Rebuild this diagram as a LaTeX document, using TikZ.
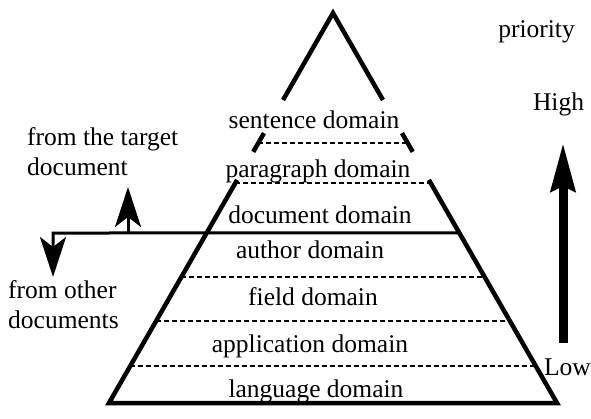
\documentclass[tikz,border=0pt]{standalone}
\usepackage{fontspec}
\setmainfont{Liberation Serif}
\usetikzlibrary{arrows.meta,calc}
\tikzstyle{layer} = [inner sep=0pt, anchor=base, font=\fontsize{25.5}{30}\selectfont]
\tikzstyle{note} = [layer, anchor=base west, align=left]
\tikzstyle{rim} = [line width=4.5pt]
\tikzstyle{divide} = [line width=1.8pt, dash pattern=on 5pt off 3pt]
\tikzstyle{split} = [line width=3pt]

\begin{document}
\begin{tikzpicture}[x=1pt,y=-1pt]
    \useasboundingbox (0,0) rectangle (591,418);

    % pyramid
    \coordinate (apex) at (333,13);
    \coordinate (bl) at (109,403);
    \coordinate (br) at (557,403);
    \draw[rim] ($(apex)!0.223!(bl)$) -- (apex) -- ($(apex)!0.223!(br)$);
    \draw[rim] ($(apex)!0.308!(bl)$) -- ($(apex)!0.356!(bl)$);
    \draw[rim] ($(apex)!0.308!(br)$) -- ($(apex)!0.356!(br)$);
    \draw[rim] ($(apex)!0.428!(bl)$) -- (bl) -- (br) -- ($(apex)!0.428!(br)$);

    % domain boundaries
    \foreach \t in {0.333,0.436,0.677,0.790,0.905}
      \draw[divide] ($(apex)!\t!(bl)$) -- ($(apex)!\t!(br)$);
    \coordinate (junction) at (53,233);
    \coordinate (fork) at (128,233);
    \coordinate (uptip) at (128,187);
    \coordinate (downtip) at (53,277);
    \draw[split,{Stealth[width=26pt,length=40pt,inset=10pt]}-]
      (downtip) -- (junction) -- ($(apex)!0.564!(br)$);
    \draw[split,-{Stealth[width=26pt,length=40pt,inset=10pt]}] (fork) -- (uptip);

    \node[layer] (sent) at (314,128) {sentence domain};
    \node[layer] (para) at (318,177) {paragraph domain};
    \node[layer] (doc) at (320,223) {document domain};
    \node[layer] (auth) at (310,258) {author domain};
    \node[layer] (field) at (313,305) {field domain};
    \node[layer] (appl) at (310,352) {application domain};
    \node[layer] (lang) at (316,397) {language domain};

    \node[note] (target) at (27,175) {from the target\\document};
    \node[note] (other) at (8,328) {from other\\documents};

    % priority scale
    \node[layer] (prio) at (536.5,37) {priority};
    \node[layer] (high) at (558.5,110) {High};
    \node[layer] (low) at (567.5,375) {Low};
    \coordinate (pbot) at (563,343);
    \coordinate (ptop) at (563,143);
    \draw[line width=9pt,-{Stealth[width=24pt,length=48pt,inset=5pt]}] (pbot) -- (ptop);
\end{tikzpicture}
\end{document}
